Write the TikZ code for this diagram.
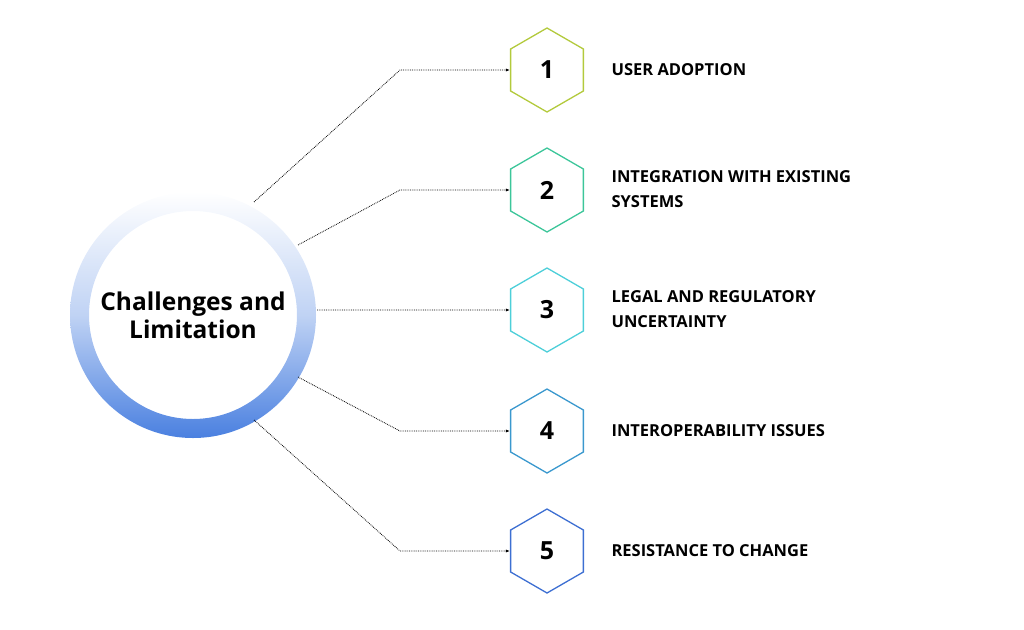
\documentclass[tikz,border=0pt]{standalone}
\usepackage{fontspec}
\setmainfont{Open Sans}
\usetikzlibrary{shapes.geometric,arrows.meta,positioning}
\definecolor{hone}{HTML}{B3CA3C}
\definecolor{htwo}{HTML}{3CC69A}
\definecolor{hthree}{HTML}{4DCFD9}
\definecolor{hfour}{HTML}{3A98CE}
\definecolor{hfive}{HTML}{3D6FD2}
\definecolor{ringblue}{HTML}{4A80E0}
\tikzset{
  hexa/.style={regular polygon, regular polygon sides=6, shape border rotate=30, minimum size=84pt, inner sep=0pt, line width=1.3pt, fill=white, font=\fontsize{25}{27}\selectfont\bfseries},
  lbl/.style={anchor=west, align=left, font=\fontsize{16.5}{25}\selectfont\bfseries},
  link/.style={densely dotted, line width=0.8pt, black, -{Latex[length=4pt,width=3pt]}}
}
\begin{document}
\begin{tikzpicture}[x=1pt,y=-1pt]
    \useasboundingbox (0,0) rectangle (1024,629);
    % ring
    \coordinate (c) at (193,315);
    \shade[top color=white, bottom color=ringblue, middle color=ringblue!35, even odd rule]
        (c) circle[radius=123] (c) circle[radius=104];
    \node (hub) [circle, minimum size=208pt, align=center, font=\fontsize{24.5}{28}\selectfont\bfseries] at (c) {Challenges and\\Limitation};

    \node (h1) [hexa, draw=hone]   at (547,70)  {1};
    \node (h2) [hexa, draw=htwo]   at (547,190) {2};
    \node (h3) [hexa, draw=hthree] at (547,310) {3};
    \node (h4) [hexa, draw=hfour]  at (547,431) {4};
    \node (h5) [hexa, draw=hfive]  at (547,551) {5};

    \node (t1) [lbl] at (608,70)  {USER ADOPTION};
    \node (t2) [lbl] at (608,189) {INTEGRATION WITH EXISTING\\SYSTEMS};
    \node (t3) [lbl] at (608,309) {LEGAL AND REGULATORY\\UNCERTAINTY};
    \node (t4) [lbl] at (608,431) {INTEROPERABILITY ISSUES};
    \node (t5) [lbl] at (608,551) {RESISTANCE TO CHANGE};

    % connector ends on the ring
    \coordinate (s1) at (254,202);
    \coordinate (s2) at (298,245);
    \coordinate (s3) at (317,310);
    \coordinate (s4) at (298,377);
    \coordinate (s5) at (254,420);
    \coordinate (b1) at (400,70);
    \coordinate (b2) at (400,190);
    \coordinate (b4) at (400,431);
    \coordinate (b5) at (400,551);
    \draw[link] (s1) -- (b1) -- (h1.west);
    \draw[link] (s2) -- (b2) -- (h2.west);
    \draw[link] (s3) -- (h3.west);
    \draw[link] (s4) -- (b4) -- (h4.west);
    \draw[link] (s5) -- (b5) -- (h5.west);
\end{tikzpicture}
\end{document}
